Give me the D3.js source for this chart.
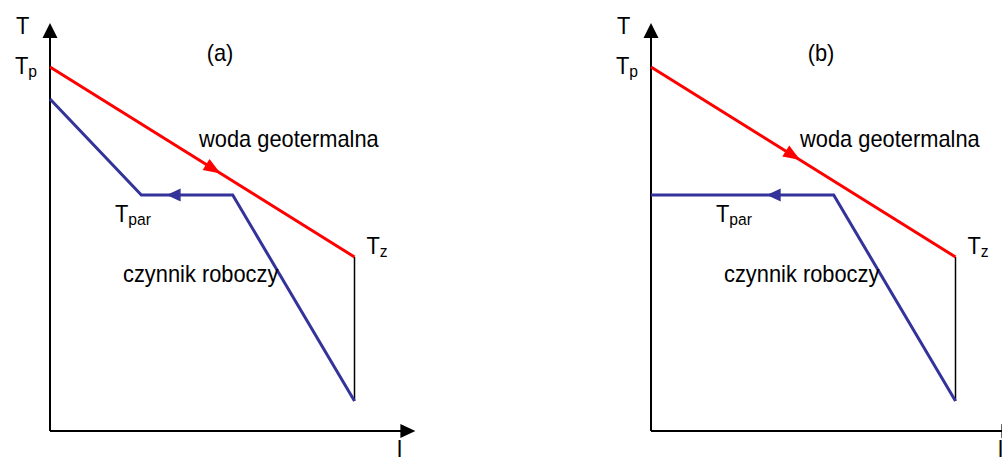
<!DOCTYPE html>
<html>
<head>
<meta charset="utf-8">
<script src="https://cdn.jsdelivr.net/npm/d3@7"></script>
<style>
  html, body { margin: 0; padding: 0; background: #fff; }
  svg text { font-family: "Liberation Sans", Arial, sans-serif; fill: #000; }
</style>
</head>
<body>
<svg id="chart" width="1002" height="466"></svg>
<script>
// Panel titles and panel origins (left edge of each T axis)
const panelNames = ["(a)", "(b)"];
const panelLeft = [50, 651];

// Heat carrier: geothermal water, from inlet Tp down to outlet Tz
const waterI = [0, 10];
const waterT = [91, 43.5];

// Working fluid, case (a): heating, evaporation at Tpar, then preheating
const fluidAI = [0, 3, 6, 10];
const fluidAT = [83, 59, 59, 7.5];

// Working fluid, case (b): saturated vapour, evaporation at Tpar, preheating
const fluidBI = [0, 6, 10];
const fluidBT = [59, 59, 7.5];

// Position (along I) of the direction arrows on each line
const waterArrowI = [5.6, 4.9];
const fluidArrowI = [3.83, 3.8];

const fluidI = [fluidAI, fluidBI];
const fluidT = [fluidAT, fluidBT];

const axisMaxI = 12, axisMaxT = 102;
const RED = "#ff0000", BLUE = "#333399";

const svg = d3.select("#chart");

const x = d3.scaleLinear().domain([0, axisMaxI]).range([0, 365.4]);
const y = d3.scaleLinear().domain([0, axisMaxT]).range([408, 0]);
const line = d3.line().x(d => x(d[0])).y(d => y(d[1]));

// filled triangle with its tip at (px,py), pointing along angle a
function arrowHead(g, px, py, a, len, half, color) {
  const c = Math.cos(a), s = Math.sin(a);
  const bx = px - len * c, by = py - len * s;
  const pts = [[px, py], [bx - half * s, by + half * c], [bx + half * s, by - half * c]];
  g.append("path").attr("d", "M" + pts.map(p => p.join(",")).join("L") + "Z")
    .attr("fill", color);
}

// point on a polyline at a given I, with the index of its segment
function pointOn(Is, Ts, iv) {
  for (let k = 0; k < Is.length - 1; k++) {
    const a = Math.min(Is[k], Is[k + 1]), b = Math.max(Is[k], Is[k + 1]);
    if (iv >= a && iv <= b && Is[k] !== Is[k + 1]) {
      const t = (iv - Is[k]) / (Is[k + 1] - Is[k]);
      const tv = Ts[k] + t * (Ts[k + 1] - Ts[k]);
      return { x: x(iv), y: y(tv), k };
    }
  }
  return null;
}

// slightly condensed label, optional subscript
function label(g, px, py, main, sub, anchor) {
  const t = g.append("g").attr("transform", `translate(${px},${py}) scale(0.95,1)`)
    .append("text").attr("font-size", 23).attr("text-anchor", anchor || "start");
  t.append("tspan").text(main);
  if (sub) t.append("tspan").attr("font-size", 16.5).attr("dy", 3).text(sub);
}

panelNames.forEach((name, p) => {
  const g = svg.append("g").attr("transform", `translate(${panelLeft[p]},23)`);

  // axes
  g.append("line").attr("x1", x(0)).attr("y1", y(0)).attr("x2", x(0)).attr("y2", y(axisMaxT) + 12)
    .attr("stroke", "#000").attr("stroke-width", 2);
  arrowHead(g, x(0), y(axisMaxT), -Math.PI / 2, 15, 7.5, "#000");
  g.append("line").attr("x1", x(0)).attr("y1", y(0)).attr("x2", x(axisMaxI) - 12).attr("y2", y(0))
    .attr("stroke", "#000").attr("stroke-width", 2);
  arrowHead(g, x(axisMaxI), y(0), 0, 15, 7, "#000");

  // closing line at outlet between water and working fluid
  const last = fluidI[p].length - 1;
  g.append("line")
    .attr("x1", x(waterI[1])).attr("y1", y(waterT[1]))
    .attr("x2", x(fluidI[p][last])).attr("y2", y(fluidT[p][last]))
    .attr("stroke", "#000").attr("stroke-width", 1.5);

  // geothermal water
  const wData = waterI.map((v, i) => [v, waterT[i]]);
  g.append("path").datum(wData).attr("d", line)
    .attr("fill", "none").attr("stroke", RED).attr("stroke-width", 3);
  {
    const a = Math.atan2(y(waterT[1]) - y(waterT[0]), x(waterI[1]) - x(waterI[0]));
    const pt = pointOn(waterI, waterT, waterArrowI[p]);
    arrowHead(g, pt.x, pt.y, a, 17, 6.5, RED);
  }

  // working fluid
  const fData = fluidI[p].map((v, i) => [v, fluidT[p][i]]);
  g.append("path").datum(fData).attr("d", line)
    .attr("fill", "none").attr("stroke", BLUE).attr("stroke-width", 3)
    .attr("stroke-linejoin", "miter");
  {
    const pt = pointOn(fluidI[p], fluidT[p], fluidArrowI[p]);
    const k = pt.k;
    const a = Math.atan2(y(fluidT[p][k]) - y(fluidT[p][k + 1]), x(fluidI[p][k]) - x(fluidI[p][k + 1]));
    arrowHead(g, pt.x, pt.y, a, 14, 6.5, BLUE);
  }

  // texts
  label(g, -34, 11, "T");
  label(g, -35, 51, "T", "p");
  label(g, 170, 38, name, null, "middle");
  label(g, x(waterI[0]) + 149, 124, "woda geotermalna");
  label(g, x(fluidI[p][0]) + 65, 199, "T", "par");
  label(g, 73, 259, "czynnik roboczy");
  label(g, x(waterI[1]) + 12, 231, "T", "z");
  label(g, x(axisMaxI) - 19, 434, "I");
});
</script>
</body>
</html>
